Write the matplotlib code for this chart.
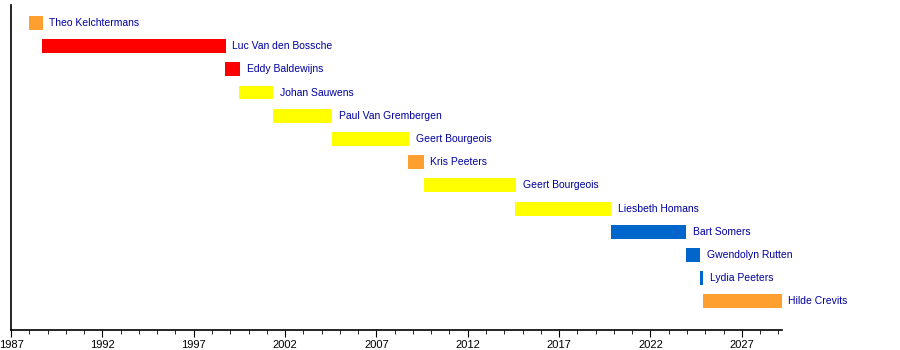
import matplotlib.pyplot as plt
from matplotlib.ticker import MultipleLocator

plt.rcParams['font.family'] = ['Liberation Sans', 'DejaVu Sans']

names = ["Theo Kelchtermans", "Luc Van den Bossche", "Eddy Baldewijns",
         "Johan Sauwens", "Paul Van Grembergen", "Geert Bourgeois",
         "Kris Peeters", "Geert Bourgeois", "Liesbeth Homans",
         "Bart Somers", "Gwendolyn Rutten", "Lydia Peeters", "Hilde Crevits"]
starts = [1988.0, 1988.7, 1998.72, 1999.5, 2001.35, 2004.55, 2008.75,
          2009.58, 2014.6, 2019.82, 2023.93, 2024.7, 2024.85]
ends = [1988.75, 1998.77, 1999.55, 2001.35, 2004.58, 2008.8, 2009.6,
        2014.65, 2019.85, 2023.97, 2024.73, 2024.9, 2029.2]
parties = ["CVP", "SP", "SP", "VU", "VU", "N-VA", "CD&V", "N-VA", "N-VA",
           "Open VLD", "Open VLD", "Open VLD", "CD&V"]

party_colors = {"CVP": "#FF9F2F", "CD&V": "#FF9F2F", "SP": "#FF0000",
                "VU": "#FFFF00", "N-VA": "#FFFF00", "Open VLD": "#0066CC"}

fig = plt.figure(figsize=(9, 3.5), dpi=100)
ax = fig.add_axes([11/900, 20/350, 771/900, 325/350])

for i, (n, s, e, p) in enumerate(zip(names, starts, ends, parties)):
    ax.barh(i, e - s, left=s, height=0.6, color=party_colors[p], linewidth=0)
    ax.text(e + 0.35, i, n, va='center', ha='left', fontsize=7.5, color='#0000A0')

ax.set_xlim(1987, 2029.2)
ax.set_ylim(13.23, -0.77)
ax.xaxis.set_major_locator(MultipleLocator(5, offset=2))
ax.xaxis.set_minor_locator(MultipleLocator(1))
ax.tick_params(axis='x', which='major', length=5, labelsize=8, pad=2)
ax.tick_params(axis='x', which='minor', length=3)
ax.set_yticks([])
for side in ['top', 'right']:
    ax.spines[side].set_visible(False)
for side in ['left', 'bottom']:
    ax.spines[side].set_linewidth(1.2)

fig.savefig("out.png", dpi=100)
